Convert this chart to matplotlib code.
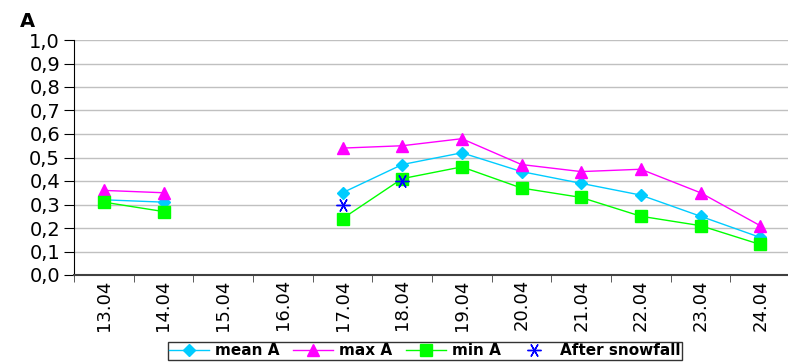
import numpy as np
import matplotlib.pyplot as plt
from matplotlib.ticker import FuncFormatter

# dates on the category axis
dates = ['13.04', '14.04', '15.04', '16.04', '17.04', '18.04',
         '19.04', '20.04', '21.04', '22.04', '23.04', '24.04']
nan = np.nan
mean_a = [0.32, 0.31, nan, nan, 0.35, 0.47, 0.52, 0.44, 0.39, 0.34, 0.25, 0.16]
max_a = [0.36, 0.35, nan, nan, 0.54, 0.55, 0.58, 0.47, 0.44, 0.45, 0.35, 0.21]
min_a = [0.31, 0.27, nan, nan, 0.24, 0.41, 0.46, 0.37, 0.33, 0.25, 0.21, 0.13]
after_snow = [nan, nan, nan, nan, 0.30, 0.40, nan, nan, nan, nan, nan, nan]

x = np.arange(len(dates))

fig = plt.figure(figsize=(7.88, 3.63), dpi=100)
ax = fig.add_axes([74/788, 1-275/363, 716/788, 235/363])

ax.plot(x, mean_a, color='#00CCFF', lw=1, marker='D', ms=6.5, label='mean A')
ax.plot(x, max_a, color='#FF00FF', lw=1, marker='^', ms=9, label='max A')
ax.plot(x, min_a, color='#00FF00', lw=1, marker='s', ms=8, label='min A')
ax.plot(x, after_snow, ls='none', color='#0000FF', marker=(6, 2, 90), ms=10,
        mew=1, label='After snowfall')

ax.set_xlim(-0.5, len(dates) - 0.5)
ax.set_ylim(0, 1.0)
ax.set_yticks(np.arange(0, 1.01, 0.1))
ax.yaxis.set_major_formatter(FuncFormatter(lambda v, p: f'{v:.1f}'.replace('.', ',')))
ax.set_xticks(x)
ax.set_xticklabels(dates, rotation=90)
ax.set_xticks(np.arange(-0.5, len(dates), 1), minor=True)
ax.tick_params(axis='x', which='major', length=0, labelsize=13, pad=3)
ax.tick_params(axis='x', which='minor', length=5, color='#404040')
ax.tick_params(axis='y', length=7, labelsize=14, pad=3, direction='out')

ax.grid(axis='y', color='#C0C0C0', lw=1)
ax.set_axisbelow(True)
for s in ['top', 'right']:
    ax.spines[s].set_visible(False)
ax.spines['left'].set_color('black')
ax.spines['bottom'].set_color('#404040')
ax.spines['bottom'].set_linewidth(1.5)

fig.text(20/788, 1-27/363, 'A', fontsize=14, fontweight='bold')

leg = ax.legend(loc='lower center', bbox_to_anchor=(425/788, -0.012), bbox_transform=fig.transFigure,
                ncol=4, frameon=True, fancybox=False, edgecolor='black',
                prop={'weight': 'bold', 'size': 11}, handlelength=2.6,
                borderpad=0.1, columnspacing=0.9, handletextpad=0.4)
leg.get_frame().set_linewidth(1)

fig.savefig('out.png', dpi=100)
